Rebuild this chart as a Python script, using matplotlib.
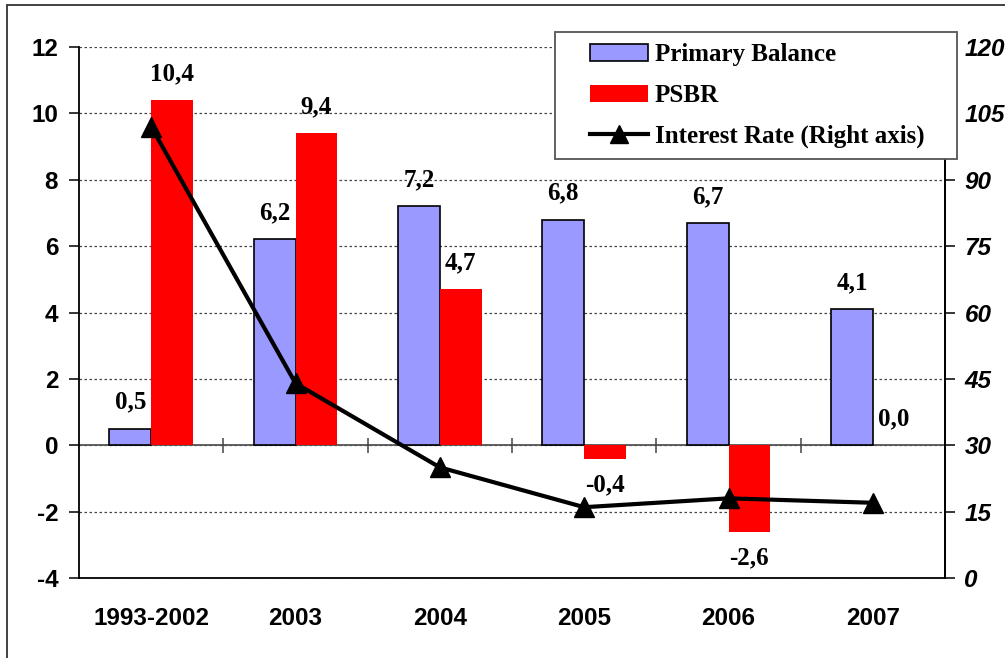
import numpy as np
import matplotlib
matplotlib.use("Agg")
from matplotlib import pyplot as plt
from matplotlib.patches import Patch, Rectangle
from matplotlib.lines import Line2D

plt.rcParams["axes.unicode_minus"] = False

# chart data
categories = ["1993-2002", "2003", "2004", "2005", "2006", "2007"]
primary_balance = [0.5, 6.2, 7.2, 6.8, 6.7, 4.1]
psbr = [10.4, 9.4, 4.7, -0.4, -2.6, 0.0]
interest_rate = [102, 44, 25, 16, 18, 17]

blue = "#9999FF"
red = "#FF0000"
sans = "Liberation Sans"
serif = "Liberation Serif"

W, H = 1005, 658
fig = plt.figure(figsize=(W / 100, H / 100), dpi=100)
# axes box in pixels: left 79, right 945, top 47, bottom 578
ax = fig.add_axes([79 / W, 1 - 578 / H, (945 - 79) / W, (578 - 47) / H])

x = np.arange(len(categories))
bw = 0.29
ax.bar(x - bw / 2, primary_balance, bw, color=blue, edgecolor="black", linewidth=1.2, zorder=2)
ax.bar(x + bw / 2, psbr, bw, color=red, linewidth=0, zorder=2)

ax.set_xlim(-0.5, len(categories) - 0.5)
ax.set_ylim(-4, 12)
ax.set_yticks(np.arange(-4, 13, 2))
ax.set_xticks(x)
ax.set_xticklabels(categories)
ax.set_axisbelow(True)
ax.yaxis.grid(True, linestyle=(0, (2, 2)), color="#444444", linewidth=0.9)

# zero line with category boundary ticks
ax.axhline(0, color="#555555", linewidth=1.3, zorder=1.5)
ax.vlines(x[:-1] + 0.5, -0.22, 0.22, color="#444444", linewidth=1.1, zorder=1.5)

ax.spines["top"].set_visible(False)
for side in ["left", "bottom", "right"]:
    ax.spines[side].set_linewidth(1.3)

ax.tick_params(axis="x", length=0, pad=21)
ax.tick_params(axis="y", length=7, width=1.1, pad=8, direction="out")
for t in ax.get_xticklabels() + ax.get_yticklabels():
    t.set_fontfamily(sans)
    t.set_fontweight("bold")
    t.set_fontsize(17.5)

# data labels
def label(xpos, val):
    off = 19 if val >= 0 else -19
    ax.annotate(f"{val:.1f}".replace(".", ","), (xpos, val), xytext=(0, off),
                textcoords="offset points", ha="center", va="center",
                fontfamily=serif, fontweight="bold", fontsize=18, zorder=6)

for i in range(len(categories)):
    label(x[i] - bw / 2, primary_balance[i])
    label(x[i] + bw / 2, psbr[i])

# right axis
ax2 = ax.twinx()
ax2.set_ylim(0, 120)
ax2.set_yticks(np.arange(0, 121, 15))
ax2.plot(x, interest_rate, color="black", linewidth=3, marker="^", markersize=15, zorder=5)
ax2.tick_params(axis="y", length=7, width=1.1, pad=7, direction="out")
for t in ax2.get_yticklabels():
    t.set_fontfamily(sans)
    t.set_fontweight("bold")
    t.set_fontstyle("italic")
    t.set_fontsize(17.5)
for side in ["top", "left", "bottom"]:
    ax2.spines[side].set_visible(False)
ax2.spines["right"].set_linewidth(1.3)

# legend frame drawn as a patch, legend itself frameless
frame = Rectangle((555 / W, 1 - 159 / H), (957 - 555) / W, (159 - 32) / H,
                  transform=fig.transFigure, facecolor="white", edgecolor="#555555",
                  linewidth=1.3, zorder=4)
fig.patches.append(frame)

handles = [
    Patch(facecolor=blue, edgecolor="black", linewidth=1.2),
    Patch(facecolor=red, edgecolor="none"),
    Line2D([], [], color="black", linewidth=3, marker="^", markersize=13),
]
leg = fig.legend(handles, ["Primary Balance", "PSBR", "Interest Rate (Right axis)"],
                 loc="upper left", bbox_to_anchor=(590 / W, 1 - 43 / H),
                 frameon=False, borderpad=0, borderaxespad=0,
                 handlelength=2.3, handleheight=0.7, handletextpad=0.3,
                 labelspacing=0.72,
                 prop={"family": serif, "weight": "bold", "size": 18})
leg.set_zorder(5)

# outer border of the picture
border = Rectangle((7 / W, -0.1), 1.2, 1 - 5 / H + 0.1, transform=fig.transFigure,
                   facecolor="none", edgecolor="#333333", linewidth=1.3, zorder=0)
fig.patches.append(border)

fig.savefig("out.png", dpi=100)
